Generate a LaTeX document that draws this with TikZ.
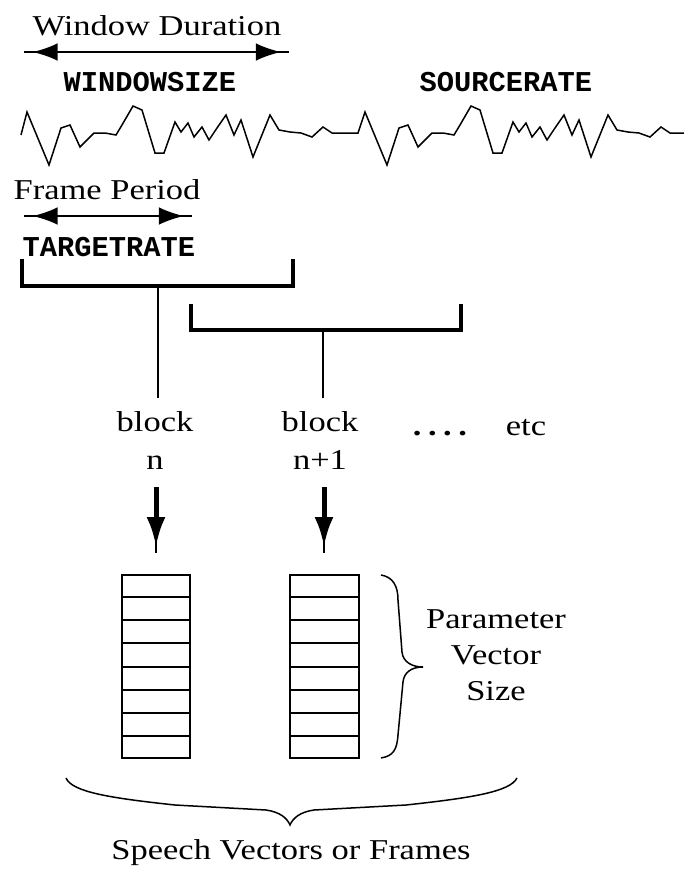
\documentclass[tikz,border=0pt]{standalone}
\usepackage{fontspec}
\setmainfont{Liberation Serif}[FakeStretch=1.2]
\setmonofont{Liberation Mono}
\usetikzlibrary{arrows.meta,calc}
\begin{document}
\begin{tikzpicture}[x=0.4pt,y=-0.4pt,
  lbl/.style={font=\fontsize{11.5}{15}\selectfont, inner sep=0pt, align=center},
  mono/.style={font=\ttfamily\bfseries\fontsize{11.5}{14}\selectfont, inner sep=0pt},
  dimline/.style={line width=0.8pt},
  dimtips/.style={line width=0.8pt, {Latex[length=10pt,width=7pt]}-{Latex[length=10pt,width=7pt]}, shorten <=3.4pt, shorten >=3.2pt},
  bracketline/.style={line width=1.6pt, line cap=rect},
  stem/.style={line width=0.5pt},
  downtip/.style={line width=2pt, -{Latex[length=12pt,width=7.6pt]}, shorten >=2.4pt},
  stub/.style={line width=0.8pt},
  wave/.style={line width=0.6pt, line join=miter},
  vecbox/.style={draw, line width=0.8pt, minimum width=27.2pt, minimum height=73.2pt, inner sep=0pt},
  bracecurve/.style={line width=0.6pt}
]
\useasboundingbox (0,0) rectangle (684,869);

% --- window duration ---
\node[lbl] (wd) at (157,26) {Window Duration};
\coordinate (wl) at (24,52);
\coordinate (wr) at (289,52);
\draw[dimline] (wl) -- (wr);
\draw[dimtips] (wl) -- (wr);
\node[mono] (ws) at (150,82) {WINDOWSIZE};
\node[mono] (sr) at (506,82) {SOURCERATE};

% --- waveform ---
\draw[wave] (21,135) -- (27,112) -- (49,165) -- (61,128) -- (70,125) -- (80,147) -- (94,133) -- (105,133) -- (116,135) -- (122,125) -- (133,106) -- (142,110) -- (155,153) -- (164,153) -- (175,122) -- (181,132) -- (188,123) -- (194,137) -- (202,127) -- (209,140) -- (217,128) -- (226,115) -- (234,135) -- (241,120) -- (253,157) -- (270,115) -- (279,130) -- (290,132) -- (301,133) -- (312,137) -- (323,127) -- (332,133) -- (358,133)
 -- (365,112) -- (387,165) -- (399,128) -- (408,125) -- (418,147) -- (432,133) -- (443,133) -- (454,135) -- (460,125) -- (471,106) -- (480,110) -- (493,153) -- (502,153) -- (513,122) -- (519,132) -- (526,123) -- (532,137) -- (540,127) -- (547,140) -- (555,128) -- (564,115) -- (572,135) -- (579,120) -- (591,157) -- (608,115) -- (617,130) -- (628,132) -- (639,133) -- (650,137) -- (661,127) -- (670,133) -- (684,133);

% --- frame period ---
\node[lbl] (fp) at (107,190) {Frame Period};
\coordinate (fl) at (24,216);
\coordinate (fr) at (192,216);
\draw[dimline] (fl) -- (fr);
\draw[dimtips] (fl) -- (fr);
\node[mono] (tr) at (109,247) {TARGETRATE};

% --- brackets ---
\coordinate (b1l) at (22,261);
\coordinate (b1r) at (293,261);
\coordinate (b1m) at (158,286);
\draw[bracketline] (b1l) |- (b1m) -| (b1r);
\coordinate (b2l) at (191,306);
\coordinate (b2r) at (461,306);
\coordinate (b2m) at (323,330);
\draw[bracketline] (b2l) |- (b2m) -| (b2r);

% --- blocks ---
\node[lbl, font=\fontsize{11.5}{15.2}\selectfont] (bn) at (155,441) {block\\n};
\node[lbl, font=\fontsize{11.5}{15.2}\selectfont] (bn1) at (320,441) {block\\n+1};
\node[lbl, anchor=base] (dots) at (440,435) {\bfseries .\hspace{2.6pt}.\hspace{2.6pt}.\hspace{2.6pt}.};
\node[lbl, anchor=base] (etc) at (526,435) {etc};
\coordinate (s1e) at (158,398);
\coordinate (s2e) at (323,398);
\draw[stem] (b1m) -- (s1e);
\draw[stem] (b2m) -- (s2e);

% --- vectors ---
\node[vecbox] (v1) at (156,666.5) {};
\node[vecbox] (v2) at (324.5,666.5) {};
\foreach \v in {v1,v2}{
  \foreach \k in {1,...,7}{
    \draw[line width=0.8pt] ($(\v.north west)!\k/8!(\v.south west)$) -- ($(\v.north east)!\k/8!(\v.south east)$);
  }
}

% --- down arrows ---
\coordinate (a1s) at (156,487);
\coordinate (a1e) at (156,553);
\coordinate (a2s) at (324,487);
\coordinate (a2e) at (324,553);
\draw[stub] (a1s) -- (a1e);
\draw[downtip] (a1s) -- (a1e);
\draw[stub] (a2s) -- (a2e);
\draw[downtip] (a2s) -- (a2e);

% --- right brace ---
\draw[bracecurve] (381,575) .. controls (393,577) and (398,586) .. (398,600) -- (402,652) .. controls (403,662) and (412,667) .. (423,667) .. controls (412,667) and (404,672) .. (403,682) -- (398,735) .. controls (397,750) and (393,756) .. (381,758);
\node[lbl] (pvs) at (496,655) {Parameter\\[-0.5pt]Vector\\[-0.5pt]Size};

% --- bottom brace ---
\draw[bracecurve] (66,778) .. controls (72,792) and (110,798) .. (175,805) -- (266,810) .. controls (280,812) and (287,818) .. (290,825) .. controls (293,818) and (300,812) .. (314,810) -- (406,805) .. controls (470,798) and (510,792) .. (517,778);
\node[lbl] (svf) at (291,853) {Speech Vectors or Frames};
\end{tikzpicture}
\end{document}
